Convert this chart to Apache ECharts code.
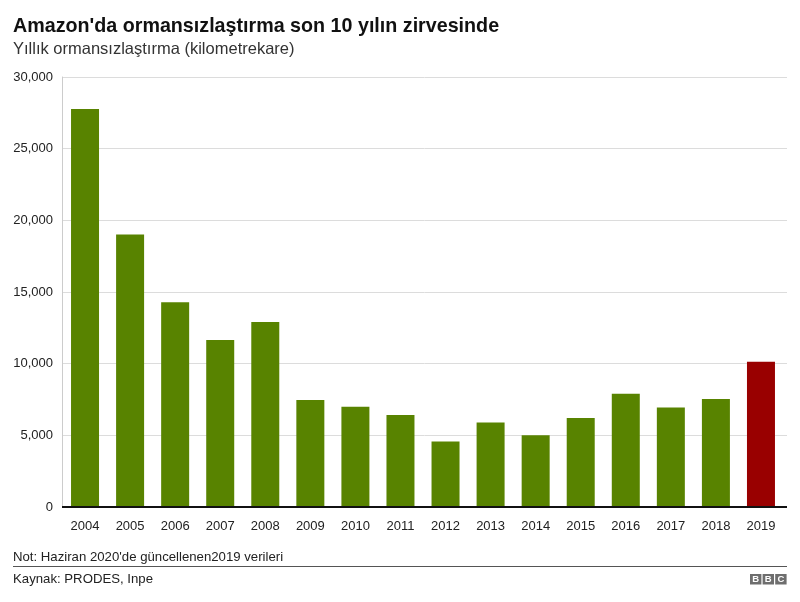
<!DOCTYPE html>
<html>
<head>
<meta charset="utf-8">
<style>
  html, body { margin: 0; padding: 0; background: #fff; }
  #main { width: 800px; height: 602px; }
</style>
<script src="https://cdn.jsdelivr.net/npm/echarts@6/dist/echarts.min.js"></script>
</head>
<body>
<div id="main"></div>
<script>
// datos
const years = ["2004","2005","2006","2007","2008","2009","2010","2011","2012","2013","2014","2015","2016","2017","2018","2019"];
const deforestation = [27772,19014,14286,11651,12911,7464,7000,6418,4571,5891,5012,6207,7893,6947,7536,10129];
const highlightYear = "2019";

const titleText = "Amazon'da ormansızlaştırma son 10 yılın zirvesinde";
const subtitleText = "Yıllık ormansızlaştırma (kilometrekare)";
const noteText = "Not: Haziran 2020'de güncellenen2019 verileri";
const sourceText = "Kaynak: PRODES, Inpe";
const logoLetters = ["B","B","C"];

const FONT = '"Liberation Sans", Arial, sans-serif';
const GREEN = "#588300";
const RED = "#990000";

var chart = echarts.init(document.getElementById("main"), null, {renderer: "canvas"});

// logo de la BBC, tres cuadros grises
const logo = logoLetters.map((letter, i) => ({
  type: "group",
  left: 750 + i * 12.6,
  top: 574,
  children: [
    {type: "rect", shape: {x: 0, y: 0, width: 11.4, height: 10.5}, style: {fill: "#6e6e6e"}},
    {type: "text", x: 5.7, y: 5.5, style: {text: letter, fill: "#fff", font: 'bold 9.5px ' + FONT, align: "center", verticalAlign: "middle"}}
  ]
}));

var option = {
  animation: false,
  backgroundColor: "#fff",
  textStyle: {fontFamily: FONT},
  title: [
    {text: titleText, left: 8, top: 12, textStyle: {fontFamily: FONT, fontSize: 19.7, fontWeight: "bold", color: "#111"}},
    {text: subtitleText, left: 8, top: 36, textStyle: {fontFamily: FONT, fontSize: 16.5, fontWeight: "normal", color: "#333"}},
    {text: noteText, left: 8, top: 546, textStyle: {fontFamily: FONT, fontSize: 13.2, fontWeight: "normal", color: "#222"}},
    {text: sourceText, left: 8, top: 568, textStyle: {fontFamily: FONT, fontSize: 13.2, fontWeight: "normal", color: "#222"}}
  ],
  // grid 0 = lineas y eje, grid 1 = barras (las lineas pasan un poco de la ultima barra)
  grid: [
    {left: 62, top: 77, width: 725, height: 430},
    {left: 62.5, top: 77, width: 721, height: 430}
  ],
  xAxis: [
    {
      gridIndex: 0, type: "value", min: 0, max: 1,
      axisLine: {show: false}, axisTick: {show: false}, axisLabel: {show: false}, splitLine: {show: false}
    },
    {
      gridIndex: 1, type: "category", data: years,
      axisLine: {show: false}, axisTick: {show: false},
      axisLabel: {color: "#222", fontSize: 13, fontFamily: FONT, margin: 13, interval: 0}
    }
  ],
  yAxis: [
    {
      gridIndex: 0, type: "value", min: 0, max: 30000, interval: 5000,
      axisLine: {show: true, onZero: false, lineStyle: {color: "#cccccc", width: 1}},
      axisTick: {show: false},
      axisLabel: {color: "#222", fontSize: 13, fontFamily: FONT, margin: 9,
        formatter: (v) => v.toLocaleString("en-US")},
      splitLine: {show: true, lineStyle: {color: "#dcdcdc", width: 1}}
    },
    {
      gridIndex: 1, type: "value", min: 0, max: 30000, interval: 5000,
      axisLine: {show: false}, axisTick: {show: false}, axisLabel: {show: false}, splitLine: {show: false}
    }
  ],
  series: [
    {
      type: "bar", xAxisIndex: 1, yAxisIndex: 1, barWidth: 28, z: 3,
      data: deforestation.map((v, i) => ({
        value: v,
        itemStyle: {color: years[i] === highlightYear ? RED : GREEN}
      }))
    },
    {
      // linea negra de la base
      type: "line", xAxisIndex: 0, yAxisIndex: 0, symbol: "none", z: 4, silent: true,
      data: [[0, 0], [1, 0]], lineStyle: {color: "#111", width: 2}
    }
  ],
  graphic: [
    {type: "rect", shape: {x: 13, y: 566, width: 774, height: 1}, style: {fill: "#555"}},
    ...logo
  ]
};
option && chart.setOption(option);
</script>
</body>
</html>
